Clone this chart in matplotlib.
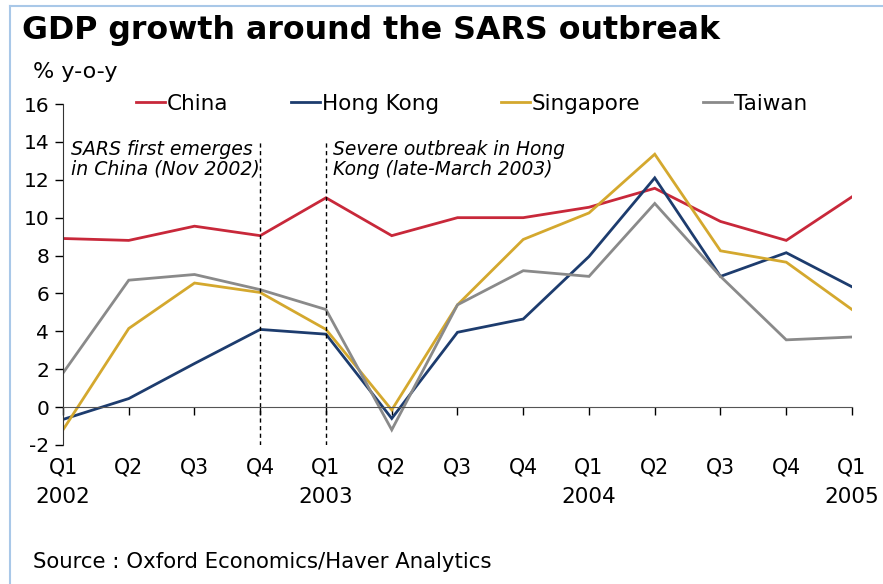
import numpy as np
import matplotlib
matplotlib.use('Agg')
from matplotlib import pyplot as plt
from matplotlib.lines import Line2D
import matplotlib.transforms as mtransforms

plt.rcParams['font.family'] = ['DejaVu Sans']
plt.rcParams['axes.unicode_minus'] = False

# 数据 (% y-o-y)
quarters = ['Q1', 'Q2', 'Q3', 'Q4', 'Q1', 'Q2', 'Q3', 'Q4', 'Q1', 'Q2', 'Q3', 'Q4', 'Q1']
years = ['2002', '', '', '', '2003', '', '', '', '2004', '', '', '', '2005']
china = [8.9, 8.8, 9.55, 9.05, 11.05, 9.05, 10.0, 10.0, 10.55, 11.55, 9.8, 8.8, 11.1]
hong_kong = [-0.65, 0.45, 2.3, 4.1, 3.85, -0.6, 3.95, 4.65, 7.95, 12.1, 6.9, 8.15, 6.35]
singapore = [-1.2, 4.15, 6.55, 6.05, 4.1, -0.15, 5.4, 8.85, 10.25, 13.35, 8.25, 7.65, 5.15]
taiwan = [1.8, 6.7, 7.0, 6.2, 5.15, -1.2, 5.4, 7.2, 6.9, 10.75, 6.9, 3.55, 3.7]

names = ['China', 'Hong Kong', 'Singapore', 'Taiwan']
colors = ['#C8283A', '#1D3C6E', '#D4A82E', '#8A8A8A']
series = [china, hong_kong, singapore, taiwan]

fig = plt.figure(figsize=(8.83, 5.84), dpi=100)
ax = fig.add_axes([63 / 883, 1 - 445 / 584, 789 / 883, 341 / 584])

x = np.arange(len(quarters))
for vals, name, c in zip(series, names, colors):
    ax.plot(x, vals, color=c, lw=2.0, label=name, solid_joinstyle='miter')

# 虚线标记
for xv in [3, 4]:
    ax.plot([xv, xv], [-2, 14], color='black', lw=1, ls=(0, (3, 2.5)))

ax.text(0.12, 14.1, 'SARS first emerges\nin China (Nov 2002)', style='italic',
        fontsize=13.6, va='top', ha='left', linespacing=1.05)
ax.text(4.1, 14.1, 'Severe outbreak in Hong\nKong (late-March 2003)', style='italic',
        fontsize=13.4, va='top', ha='left', linespacing=1.05)

ax.set_xlim(0, 12)
ax.set_ylim(-2, 16)
ax.set_yticks(np.arange(-2, 17, 2))
ax.tick_params(axis='y', direction='out', length=6, labelsize=14.5, width=1, pad=4)
ax.set_xticks(x)
ax.set_xticklabels([])
ax.tick_params(axis='x', direction='out', length=6, width=1)
for s in ['top', 'right']:
    ax.spines[s].set_visible(False)
ax.spines['bottom'].set_position(('data', 0))
ax.spines['left'].set_color('#333333')
ax.spines['bottom'].set_color('#555555')

trans = mtransforms.blended_transform_factory(ax.transData, fig.transFigure)
for i, (q, yr) in enumerate(zip(quarters, years)):
    ax.text(i, 1 - 467 / 584, q, transform=trans, ha='center', va='center', fontsize=14.8)
    if yr:
        ax.text(i, 1 - 497 / 584, yr, transform=trans, ha='center', va='center', fontsize=15.5)

handles = [Line2D([], [], color=c, lw=2.0) for c in colors]
ax.legend(handles, names, loc='center left', bbox_to_anchor=((136 - 63) / 789, 1.0),
          ncol=4, frameon=False, fontsize=15.5, handlelength=1.35, handletextpad=0.08,
          columnspacing=2.9, borderpad=0, borderaxespad=0)

fig.text(22 / 883, 1 - 31 / 584, 'GDP growth around the SARS outbreak', fontsize=22.8,
         fontweight='bold', va='center', ha='left')
fig.text(33 / 883, 1 - 72 / 584, '% y-o-y', fontsize=16, va='center', ha='left')
fig.text(33 / 883, 1 - 562 / 584, 'Source : Oxford Economics/Haver Analytics', fontsize=15.3,
         va='center', ha='left')

# 浅蓝色边框
fig.add_artist(Line2D([10 / 883, 10 / 883], [0, 1 - 6 / 584], color='#A9C8E8', lw=1.5,
                      transform=fig.transFigure))
fig.add_artist(Line2D([10 / 883, 1], [1 - 6 / 584, 1 - 6 / 584], color='#A9C8E8', lw=1.5,
                      transform=fig.transFigure))

fig.savefig('out.png', dpi=100)
